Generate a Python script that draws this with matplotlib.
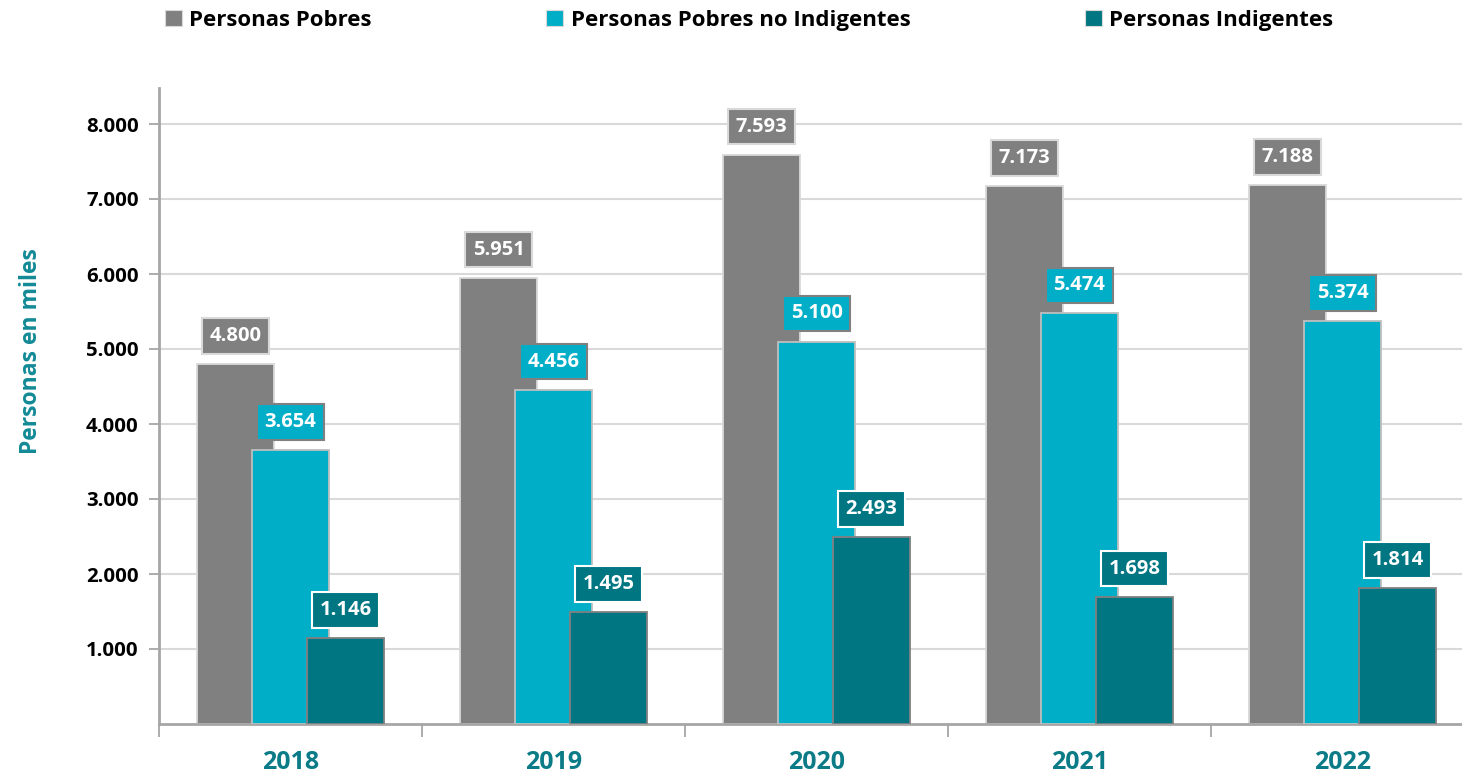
import matplotlib
matplotlib.use("Agg")
import matplotlib.pyplot as plt
from matplotlib.patches import Patch
from matplotlib.ticker import FuncFormatter, FixedLocator
import numpy as np

plt.rcParams['font.family'] = ['Open Sans', 'DejaVu Sans']

years = ["2018", "2019", "2020", "2021", "2022"]
series_names = ["Personas Pobres", "Personas Pobres no Indigentes", "Personas Indigentes"]
pobres = [4800, 5951, 7593, 7173, 7188]
pobres_no_ind = [3654, 4456, 5100, 5474, 5374]
indigentes = [1146, 1495, 2493, 1698, 1814]
y_ticks = [1000, 2000, 3000, 4000, 5000, 6000, 7000, 8000]

colors = ["#808080", "#00AEC7", "#007682"]
bar_edges = ["#d9d9d9", "#bfbfbf", "#808080"]
box_edges = ["#d9d9d9", "#808080", "#ffffff"]
teal_text = "#0b7c87"

W, H = 1462, 774
fig = plt.figure(figsize=(W / 100, H / 100), dpi=100)
left, right, bottom, top = 159, 1474, 724, 88
ax = fig.add_axes([left / W, 1 - bottom / H, (right - left) / W, (bottom - top) / H])

x = np.arange(len(years))
offsets = [-0.209, 0.0, 0.209]
width = 0.293
data = [pobres, pobres_no_ind, indigentes]

for i, vals in enumerate(data):
    bars = ax.bar(x + offsets[i], vals, width=width, color=colors[i],
                  edgecolor=bar_edges[i], linewidth=1.3, zorder=2 + i)
    for b, v in zip(bars, vals):
        lbl = f"{v:,}".replace(",", ".")
        ax.annotate(lbl, (b.get_x() + b.get_width() / 2, v),
                    xytext=(0, 28), textcoords="offset pixels",
                    ha="center", va="center", color="white",
                    fontsize=14.5, fontweight="bold", zorder=10,
                    bbox=dict(boxstyle="square,pad=0.38", fc=colors[i],
                              ec=box_edges[i], lw=1.5))

ax.set_xlim(-0.5, len(years) - 0.5)
ax.set_ylim(0, 8480)
ax.yaxis.set_major_locator(FixedLocator(y_ticks))
ax.yaxis.set_major_formatter(FuncFormatter(lambda v, p: f"{int(v):,}".replace(",", ".")))
ax.grid(axis="y", color="#d9d9d9", lw=1.5, zorder=0)
ax.set_axisbelow(True)

ax.set_xticks(x)
ax.set_xticklabels(years)
ax.set_xticks(np.arange(len(years) + 1) - 0.5, minor=True)
ax.tick_params(axis="x", which="major", length=0, pad=19, labelsize=18,
               labelcolor=teal_text)
ax.tick_params(axis="x", which="minor", length=9, width=1.3, color="#a6a6a6")
ax.tick_params(axis="y", length=7, width=1.3, color="#a6a6a6", labelsize=14.7, pad=7.5)
for lab in ax.get_xticklabels():
    lab.set_fontweight("bold")
for lab in ax.get_yticklabels():
    lab.set_fontweight("bold")

for s in ["top", "right"]:
    ax.spines[s].set_visible(False)
for s in ["left", "bottom"]:
    ax.spines[s].set_color("#a6a6a6")
    ax.spines[s].set_linewidth(2)

fig.text(31 / W, 1 - 351 / H, "Personas en miles", rotation=90, ha="center", va="center",
         color="#128a96", fontsize=16.5, fontweight="bold")

handles = [Patch(facecolor=c, edgecolor="#d9d9d9", lw=0.8) for c in colors]
fig.legend(handles, series_names, loc="upper left", bbox_to_anchor=(145 / W, 1 + 10 / H),
           ncol=3, frameon=False, handlelength=0.75, handleheight=0.75,
           handletextpad=0.35, columnspacing=7.85,
           prop=dict(size=16, weight="bold"))

fig.savefig("out.png", dpi=100)
